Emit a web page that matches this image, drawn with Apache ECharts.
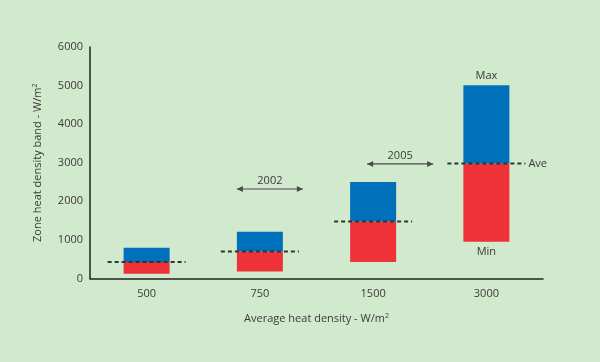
<!DOCTYPE html>
<html><head><meta charset="utf-8">
<script src="https://cdn.jsdelivr.net/npm/echarts@6/dist/echarts.min.js"></script>
<style>html,body{margin:0;padding:0;background:#d1e9cc}#c{width:600px;height:362px}</style>
</head><body><div id="c"></div>
<script>
var categories = ['500', '750', '1500', '3000'];
var minValues = [120, 180, 430, 950];
var aveValues = [430, 700, 1480, 2980];
var maxValues = [800, 1210, 2500, 5010];
var yTicks = [0, 1000, 2000, 3000, 4000, 5000, 6000];
var periodLabels = ['2002', '2005'];
var periodValues = [2320, 2970];

var txt = '#3a3a3a';
var font = 'Open Sans';
var chart = echarts.init(document.getElementById('c'));
var redPart = minValues.map(function (v, i) { return aveValues[i] - v; });
var bluePart = maxValues.map(function (v, i) { return v - aveValues[i]; });

chart.setOption({
  backgroundColor: '#d1e9cc',
  animation: false,
  grid: { left: 90, right: 57, top: 47, bottom: 83.5 },
  xAxis: {
    type: 'category', data: categories,
    axisLine: { lineStyle: { color: '#222', width: 1.5 } },
    axisTick: { show: false },
    axisLabel: { color: txt, fontFamily: font, fontSize: 11, margin: 10 },
    name: 'Average heat density - W/m{s|2}', nameLocation: 'middle', nameGap: 34,
    nameTextStyle: { color: txt, fontFamily: font, fontSize: 11,
      rich: { s: { fontSize: 7, verticalAlign: 'top', padding: [0, 0, 6, 0], color: txt, fontFamily: font } } }
  },
  yAxis: {
    type: 'value', min: yTicks[0], max: yTicks[yTicks.length - 1], interval: 1000,
    axisLine: { show: true, lineStyle: { color: '#222', width: 1.5 } },
    axisTick: { show: false },
    splitLine: { show: false },
    axisLabel: { color: txt, fontFamily: font, fontSize: 11, margin: 7,
      formatter: function (v) { return String(v); } },
    name: 'Zone heat density band - W/m{s|2}', nameLocation: 'middle', nameGap: 46,
    nameTextStyle: { color: txt, fontFamily: font, fontSize: 11,
      rich: { s: { fontSize: 7, verticalAlign: 'top', padding: [0, 0, 6, 0], color: txt, fontFamily: font } } }
  },
  series: [
    { type: 'bar', stack: 'b', barWidth: 46, data: minValues,
      itemStyle: { color: 'transparent' },
      label: { show: true, position: 'insideTop', distance: 5, color: txt, fontFamily: font, fontSize: 11,
        formatter: function (p) { return p.dataIndex === 3 ? 'Min' : ''; } } },
    { type: 'bar', stack: 'b', barWidth: 46, data: redPart, itemStyle: { color: '#ee3238' } },
    { type: 'bar', stack: 'b', barWidth: 46, data: bluePart, itemStyle: { color: '#0070ba' },
      label: { show: true, position: 'top', distance: 4, color: txt, fontFamily: font, fontSize: 11,
        formatter: function (p) { return p.dataIndex === 3 ? 'Max' : ''; } } },
    { type: 'custom', z: 5,
      data: aveValues.map(function (v, i) { return [i, v]; }),
      renderItem: function (params, api) {
        var p = api.coord([api.value(0), api.value(1)]);
        var children = [{ type: 'line', shape: { x1: p[0] - 39, y1: p[1], x2: p[0] + 39, y2: p[1] },
          style: { stroke: '#333', lineWidth: 2, lineDash: [4, 3] } }];
        if (params.dataIndex === 3) {
          children.push({ type: 'text', style: { text: 'Ave', x: p[0] + 42, y: p[1], fill: txt,
            font: '11px "Open Sans"', textVerticalAlign: 'middle' } });
        }
        return { type: 'group', children: children };
      } },
    { type: 'custom', z: 6,
      data: periodValues.map(function (v, i) { return [i + 1, v]; }),
      renderItem: function (params, api) {
        var p = api.coord([api.value(0), api.value(1)]);
        var off = params.dataIndex === 0 ? 10 : 27;
        var cx = p[0] + off, y = p[1], h = 33;
        var c = '#4a4a4a';
        return { type: 'group', children: [
          { type: 'line', shape: { x1: cx - h, y1: y, x2: cx + h, y2: y }, style: { stroke: c, lineWidth: 1.2 } },
          { type: 'polygon', shape: { points: [[cx - h, y], [cx - h + 6, y - 3], [cx - h + 6, y + 3]] }, style: { fill: c } },
          { type: 'polygon', shape: { points: [[cx + h, y], [cx + h - 6, y - 3], [cx + h - 6, y + 3]] }, style: { fill: c } },
          { type: 'text', style: { text: periodLabels[params.dataIndex], x: cx, y: y - 3, fill: txt,
            font: '11px "Open Sans"', textAlign: 'center', textVerticalAlign: 'bottom' } }
        ] };
      } }
  ]
});
</script></body></html>
